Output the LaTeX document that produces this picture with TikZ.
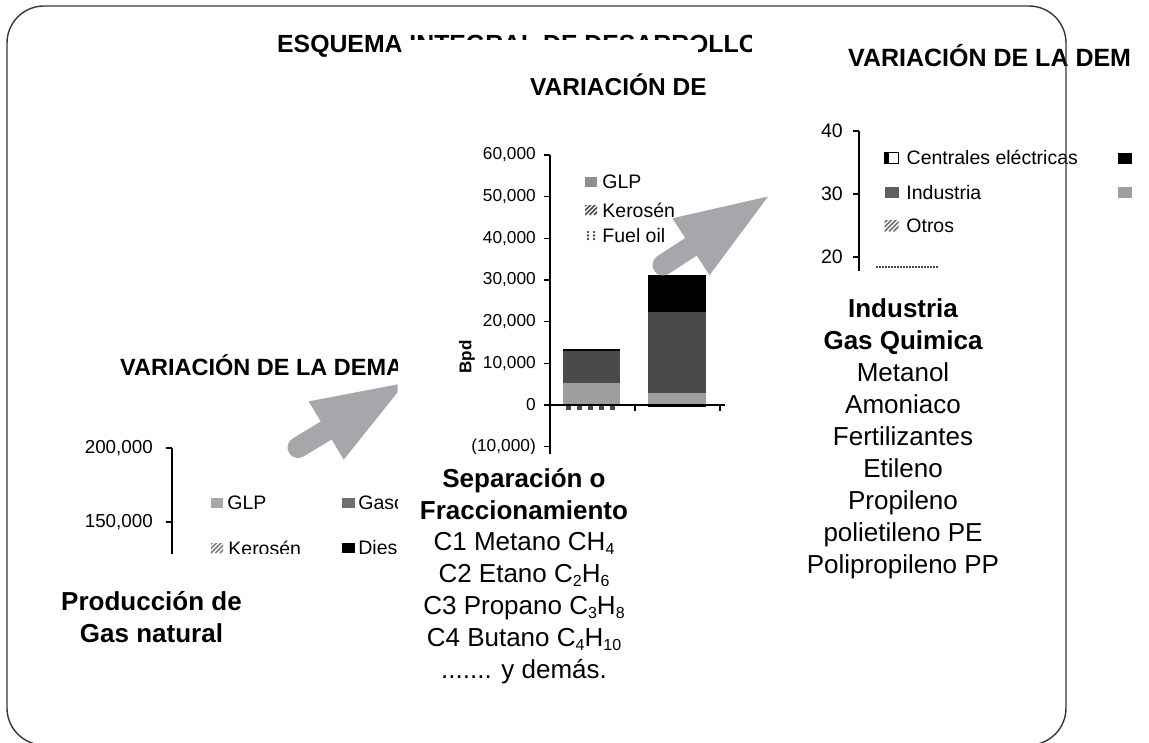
\documentclass[tikz,border=0pt]{standalone}
\usepackage{fontspec}
\setmainfont{Liberation Sans}
\usetikzlibrary{positioning,calc}
\definecolor{arrgray}{RGB}{166,167,170}
\definecolor{glp}{RGB}{143,143,143}
\definecolor{barlt}{RGB}{158,158,158}
\definecolor{bardk}{RGB}{74,74,74}
\definecolor{gas}{RGB}{112,112,112}
\definecolor{framec}{RGB}{55,55,55}
\newcommand{\fs}[1]{\fontsize{#1}{#1}\selectfont}
\newcommand{\chsub}[1]{\raisebox{-0.15em}{\fontsize{16}{16}\selectfont #1}}
\tikzset{
  x=1pt, y=-1pt,
  ttl/.style = {font=\fs{#1}\bfseries, anchor=base west, inner sep=0},
  ax/.style = {font=\fs{#1}, anchor=east, inner sep=0},
  leg/.style = {font=\fs{19.5}, inner sep=0},
  hd/.style = {font=\fs{26}\bfseries, anchor=base, inner sep=0},
  txt/.style = {font=\fs{26}, anchor=base, inner sep=0},
  sym/.style = {inner sep=0, minimum width=12pt, minimum height=10pt},
  hatch/.style = {path picture={
    \foreach \hh in {-9,-4.5,0,4.5,9}
      \draw[#1, line width=1.7pt] ([xshift=\hh pt]path picture bounding box.south west) -- ++(15pt,15pt);}},
  axl/.style = {draw=black, line width=1.1pt},
  bigarr/.style = {arrgray, line width=21pt, line cap=round},
}
\begin{document}
\begin{tikzpicture}
  \useasboundingbox (0,0) rectangle (1149,742);
  \fill[white] (0,0) rectangle (1149,742);

  \node[ttl=24.8] (tit) at (277,52) {ESQUEMA INTEGRAL DE DESARROLLO};
  \fill[white] (402,40) rectangle (698,64);

  \begin{scope}
    \clip (398,40) rectangle (760,453);
    \node[ttl=24.5] (mtit) at (530,95) {VARIACIÓN DE};
    \foreach \k/\l [count=\i] in {6/{60,000},5/{50,000},4/{40,000},3/{30,000},2/{20,000},1/{10,000},0/0,-1/{(10,000)}} {
      \node[ax=17.3] (my\i) at (536,405-41.67*\k) {\l};
      \draw[axl] (544,405-41.67*\k) -- (550,405-41.67*\k);
    }
    \node[font=\fs{17}\bfseries, rotate=90, inner sep=0] (bpd) at (467,357) {Bpd};
    \fill[barlt] (563,405) rectangle (620,383);
    \fill[bardk] (563,383) rectangle (620,351);
    \fill[black] (563,351) rectangle (620,349);
    \draw[bardk, line width=3.5pt, dash pattern=on 5pt off 6pt] (566,408) -- (620,408);
    \fill[barlt] (648,405) rectangle (706,393);
    \fill[bardk] (648,393) rectangle (706,312);
    \fill[black] (648,312) rectangle (706,275);
    \draw[black, line width=2pt] (648,406) -- (706,406);
    \draw[axl] (550,155) -- (550,460);
    \draw[axl] (550,405) -- (725,405);
    \draw[axl] (635,405) -- (635,411);
    \draw[axl] (720,405) -- (720,411);
    \node[sym, fill=glp] (mg) at (591,182) {};
    \node[leg, right=5pt of mg] (mgt) {GLP};
    \node[sym, hatch=bardk] (mk) at (591,210) {};
    \node[leg, right=5pt of mk] (mkt) {Kerosén};
    \node[sym, path picture={
      \foreach \xx in {3,9} \foreach \yy in {2,5.5,9}
        \fill[bardk] ([shift={(\xx pt,\yy pt)}]path picture bounding box.south west) circle (1.3pt);}] (mf) at (591,236) {};
    \node[leg, right=5pt of mf] (mft) {Fuel oil};
  \end{scope}

  \begin{scope}
    \clip (752,10) rectangle (1132,270);
    \fill[white] (752,10) rectangle (1132,270);
    \node[ttl=25] (rtit) at (848,66) {VARIACIÓN DE LA DEM};
    \foreach \v/\yy in {40/131,30/194,20/257} {
      \node[ax=19.5] (ry\v) at (843,\yy) {\v};
      \draw[axl] (853,\yy) -- (859,\yy);
    }
    \draw[axl] (859,131) -- (859,275);
    \node[sym, minimum width=14pt, minimum height=11pt, draw=black, line width=1pt, fill=white,
      path picture={\fill[black] (path picture bounding box.south west) rectangle ([xshift=5pt]path picture bounding box.north west);}] (rc) at (891,157.5) {};
    \node[leg, right=8pt of rc] (rct) {Centrales eléctricas};
    \node[sym, minimum width=14pt, minimum height=11pt, fill=black] (rb) at (1125,158) {};
    \node[sym, minimum width=14pt, minimum height=11pt, fill=gas!85!black] (ri) at (891.5,192.5) {};
    \node[leg, right=7.5pt of ri] (rit) {Industria};
    \node[sym, minimum width=14pt, minimum height=11pt, fill=barlt] (rg) at (1125,192.5) {};
    \node[sym, minimum width=14pt, minimum height=11pt, hatch=gas] (ro) at (891.5,226) {};
    \node[leg, right=7.5pt of ro] (rot) {Otros};
    \draw[bardk, line width=1.5pt, dash pattern=on 2pt off 1pt] (876,267) -- (938,267);
  \end{scope}

  \begin{scope}
    \clip (40,330) rectangle (397,553);
    \node[ttl=23.5] (ltit) at (120,375) {VARIACIÓN DE LA DEMA};
    \foreach \l/\yy [count=\i] in {{200,000}/448,{150,000}/522} {
      \node[ax=18.8] (ly\i) at (153,\yy) {\l};
      \draw[axl] (166,\yy) -- (172,\yy);
    }
    \draw[axl] (172,448) -- (172,560);
    \node[sym, fill=barlt!90!white] (lg) at (217,503) {};
    \node[leg, right=4pt of lg] (lgt) {GLP};
    \node[sym, minimum width=13pt, fill=gas] (ls) at (348.5,502.5) {};
    \node[leg, right=3pt of ls] (lst) {Gaso};
    \node[sym, hatch=gray] (lk) at (217,548) {};
    \node[leg, right=5pt of lk] (lkt) {Kerosén};
    \node[sym, minimum width=13pt, fill=black] (ld) at (348.5,547.5) {};
    \node[leg, right=3pt of ld] (ldt) {Dies};
  \end{scope}

  \coordinate (a1t) at (298,447.5);
  \coordinate (a1h) at (405,383);
  \coordinate (a1b) at ($(a1h)!92pt!(a1t)$);
  \begin{scope}
    \clip (0,300) rectangle (397.5,480);
    \draw[bigarr] (a1t) -- (a1b);
    \fill[arrgray] (a1h) -- ($(a1b)!34pt!90:(a1h)$) -- ($(a1b)!34pt!-90:(a1h)$) -- cycle;
  \end{scope}
  \coordinate (a2t) at (663,265);
  \coordinate (a2h) at (768,196.5);
  \coordinate (a2b) at ($(a2h)!92pt!(a2t)$);
  \draw[bigarr] (a2t) -- (a2b);
  \fill[arrgray] (a2h) -- ($(a2b)!34pt!90:(a2h)$) -- ($(a2b)!34pt!-90:(a2h)$) -- cycle;

  \node[hd] (p1) at (151.5,610) {Producción de};
  \node[hd] (p2) at (151.5,642) {Gas natural};

  \node[hd] (s1) at (524,487) {Separación o};
  \node[hd] (s2) at (524,519) {Fraccionamiento};
  \foreach \t [count=\i] in {C1 Metano CH\chsub{4},C2 Etano C\chsub{2}H\chsub{6},C3 Propano C\chsub{3}H\chsub{8},C4 Butano C\chsub{4}H\chsub{10}}
    \node[txt] (sl\i) at (524,519+31.8*\i) {\t};
  \node[txt] (sl5) at (524,678) {....... y demás.};

  \node[hd] (q1) at (903,317) {Industria};
  \node[hd] (q2) at (903,349) {Gas Quimica};
  \foreach \t [count=\i] in {Metanol,Amoniaco,Fertilizantes,Etileno,Propileno,polietileno PE,Polipropileno PP}
    \node[txt] (ql\i) at (903,349+32*\i) {\t};

  \draw[framec, line width=1.4pt, rounded corners=37pt] (7,6) rectangle (1066,745);
\end{tikzpicture}
\end{document}
